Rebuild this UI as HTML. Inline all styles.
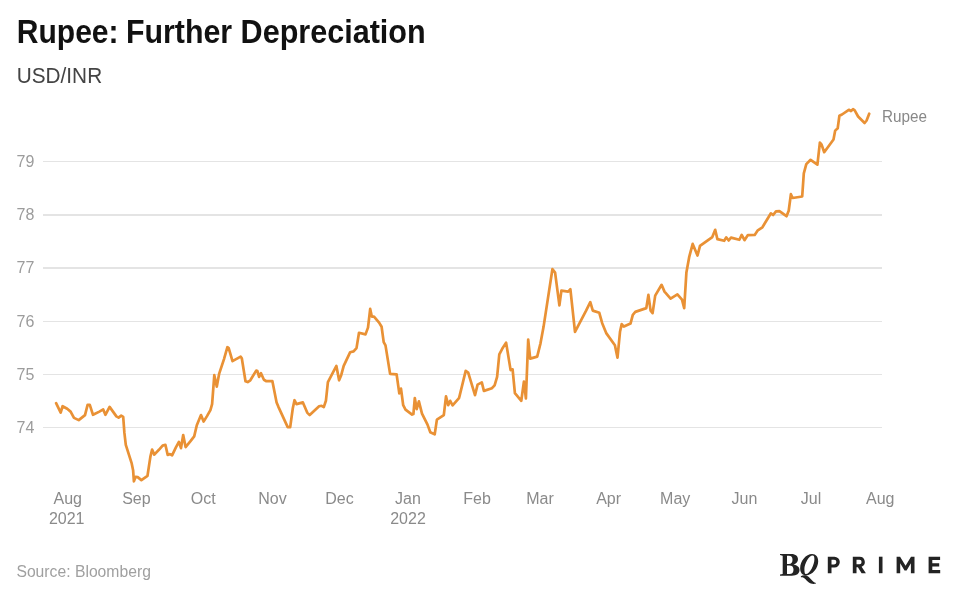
<!DOCTYPE html>
<html><head><meta charset="utf-8"><title>Rupee: Further Depreciation</title>
<style>
html,body{margin:0;padding:0;background:#fff;}
body{width:955px;height:589px;position:relative;overflow:hidden;font-family:"Liberation Sans",sans-serif;}
svg{position:absolute;left:0;top:0;will-change:transform;font-family:"Liberation Sans",sans-serif;}
</style></head><body>
<svg width="955" height="589" viewBox="0 0 955 589">
<g id="grid">
<line x1="43" x2="882" y1="161.5" y2="161.5" stroke="#e4e4e4" stroke-width="1"/>
<line x1="43" x2="882" y1="214.95" y2="214.95" stroke="#e4e4e4" stroke-width="1.9"/>
<line x1="43" x2="882" y1="268.0" y2="268.0" stroke="#e4e4e4" stroke-width="1.9"/>
<line x1="43" x2="882" y1="321.5" y2="321.5" stroke="#e4e4e4" stroke-width="1"/>
<line x1="43" x2="882" y1="374.5" y2="374.5" stroke="#e4e4e4" stroke-width="1"/>
<line x1="43" x2="882" y1="427.5" y2="427.5" stroke="#e4e4e4" stroke-width="1"/>
</g>
<g id="text">
<text transform="translate(16.80,42.70) scale(0.927,1)" font-size="32.4" fill="#111" text-anchor="start" font-weight="bold">Rupee:</text>
<text transform="translate(126.00,42.70) scale(0.936,1)" font-size="32.4" fill="#111" text-anchor="start" font-weight="bold">Further</text>
<text transform="translate(240.60,42.70) scale(0.943,1)" font-size="32.4" fill="#111" text-anchor="start" font-weight="bold">Depreciation</text>
<text transform="translate(16.70,82.70) scale(0.908,1)" font-size="22.9" fill="#444" text-anchor="start" font-weight="normal">USD/INR</text>
<text transform="translate(16.60,166.90) scale(1.0,1)" font-size="16" fill="#9c9c9c" text-anchor="start" font-weight="normal">79</text>
<text transform="translate(16.60,220.35) scale(1.0,1)" font-size="16" fill="#9c9c9c" text-anchor="start" font-weight="normal">78</text>
<text transform="translate(16.60,273.40) scale(1.0,1)" font-size="16" fill="#9c9c9c" text-anchor="start" font-weight="normal">77</text>
<text transform="translate(16.60,326.90) scale(1.0,1)" font-size="16" fill="#9c9c9c" text-anchor="start" font-weight="normal">76</text>
<text transform="translate(16.60,379.90) scale(1.0,1)" font-size="16" fill="#9c9c9c" text-anchor="start" font-weight="normal">75</text>
<text transform="translate(16.60,432.90) scale(1.0,1)" font-size="16" fill="#9c9c9c" text-anchor="start" font-weight="normal">74</text>
<text transform="translate(67.70,503.60) scale(1.0,1)" font-size="16" fill="#8a8a8a" text-anchor="middle" font-weight="normal">Aug</text>
<text transform="translate(66.70,523.70) scale(1.0,1)" font-size="16" fill="#8a8a8a" text-anchor="middle" font-weight="normal">2021</text>
<text transform="translate(136.40,503.60) scale(1.0,1)" font-size="16" fill="#8a8a8a" text-anchor="middle" font-weight="normal">Sep</text>
<text transform="translate(203.20,503.60) scale(1.0,1)" font-size="16" fill="#8a8a8a" text-anchor="middle" font-weight="normal">Oct</text>
<text transform="translate(272.50,503.60) scale(1.0,1)" font-size="16" fill="#8a8a8a" text-anchor="middle" font-weight="normal">Nov</text>
<text transform="translate(339.50,503.60) scale(1.0,1)" font-size="16" fill="#8a8a8a" text-anchor="middle" font-weight="normal">Dec</text>
<text transform="translate(408.00,503.60) scale(1.0,1)" font-size="16" fill="#8a8a8a" text-anchor="middle" font-weight="normal">Jan</text>
<text transform="translate(408.00,523.70) scale(1.0,1)" font-size="16" fill="#8a8a8a" text-anchor="middle" font-weight="normal">2022</text>
<text transform="translate(477.10,503.60) scale(1.0,1)" font-size="16" fill="#8a8a8a" text-anchor="middle" font-weight="normal">Feb</text>
<text transform="translate(540.00,503.60) scale(1.0,1)" font-size="16" fill="#8a8a8a" text-anchor="middle" font-weight="normal">Mar</text>
<text transform="translate(608.60,503.60) scale(1.0,1)" font-size="16" fill="#8a8a8a" text-anchor="middle" font-weight="normal">Apr</text>
<text transform="translate(675.20,503.60) scale(1.0,1)" font-size="16" fill="#8a8a8a" text-anchor="middle" font-weight="normal">May</text>
<text transform="translate(744.40,503.60) scale(1.0,1)" font-size="16" fill="#8a8a8a" text-anchor="middle" font-weight="normal">Jun</text>
<text transform="translate(811.00,503.60) scale(1.0,1)" font-size="16" fill="#8a8a8a" text-anchor="middle" font-weight="normal">Jul</text>
<text transform="translate(880.20,503.60) scale(1.0,1)" font-size="16" fill="#8a8a8a" text-anchor="middle" font-weight="normal">Aug</text>
<text transform="translate(882.00,121.90) scale(0.955,1)" font-size="16" fill="#888" text-anchor="start" font-weight="normal">Rupee</text>
<text transform="translate(16.40,576.90) scale(0.995,1)" font-size="15.8" fill="#a0a0a0" text-anchor="start" font-weight="normal">Source: Bloomberg</text>
</g>
<path id="series" d="M56.1,403.1 L60.7,412.6 L62.6,406.2 L67.2,408.8 L70.6,411.6 L74.0,417.9 L78.7,420.1 L85.0,415.1 L87.6,404.8 L89.8,404.8 L93.0,414.8 L99.4,411.6 L103.2,409.4 L105.4,414.8 L109.6,406.9 L113.0,411.6 L116.4,416.4 L118.6,417.6 L121.2,415.6 L123.2,416.8 L124.4,432.9 L125.8,444.8 L131.7,463.4 L133.1,470.2 L133.9,481.3 L135.6,476.8 L137.7,477.1 L141.4,480.1 L147.5,475.8 L150.4,456.6 L152.1,449.6 L154.3,454.6 L158.9,449.8 L162.6,445.6 L165.4,444.8 L167.7,454.9 L169.9,454.1 L172.1,455.3 L175.9,447.3 L178.9,441.9 L181.0,448.1 L183.2,435.1 L185.6,447.1 L190.3,441.4 L194.2,436.4 L196.8,425.3 L201.0,415.1 L203.6,421.6 L207.0,416.1 L210.4,410.1 L212.1,404.1 L214.3,375.2 L216.8,386.6 L219.2,373.6 L224.0,359.1 L227.4,347.2 L228.7,348.1 L232.5,361.1 L240.6,356.6 L241.8,358.2 L245.5,381.2 L247.7,382.1 L250.3,380.3 L256.2,370.6 L257.4,371.1 L259.1,376.9 L261.0,373.2 L263.9,379.8 L266.4,381.2 L272.4,381.2 L276.6,402.4 L278.3,406.6 L287.7,427.1 L290.2,427.1 L292.8,408.3 L294.5,400.2 L296.5,404.1 L302.9,402.4 L307.2,412.6 L309.7,415.1 L319.1,406.3 L321.6,405.8 L323.8,407.1 L325.9,400.8 L327.9,382.1 L336.4,365.9 L339.1,380.3 L341.2,375.2 L343.7,365.9 L350.2,352.2 L353.6,351.4 L356.5,348.1 L359.0,332.8 L365.5,334.4 L368.0,327.6 L370.2,308.9 L371.8,316.6 L374.0,316.6 L379.1,322.6 L381.6,326.8 L383.7,342.1 L385.5,345.4 L390.1,373.9 L396.6,374.3 L399.3,393.4 L401.0,388.6 L403.2,405.2 L405.5,409.6 L412.1,414.6 L413.4,414.1 L414.8,398.1 L416.7,409.1 L418.9,401.3 L422.0,413.6 L427.5,424.6 L430.3,432.2 L434.7,434.4 L436.9,419.6 L443.8,415.1 L446.0,396.4 L448.2,405.2 L450.2,400.8 L452.6,405.4 L459.0,398.1 L459.6,395.8 L465.7,370.9 L468.2,372.6 L475.0,395.2 L477.6,384.6 L481.8,382.4 L483.9,390.9 L492.0,388.2 L494.6,385.3 L497.1,376.9 L499.3,354.4 L502.2,348.8 L506.1,342.6 L510.6,370.1 L512.6,369.3 L514.9,393.1 L521.3,400.8 L523.9,381.6 L525.9,398.4 L528.2,339.6 L530.2,358.6 L537.2,356.6 L540.5,343.3 L543.6,326.6 L552.4,269.2 L555.1,272.6 L559.4,305.4 L561.4,290.6 L568.2,291.6 L570.4,289.3 L575.0,331.8 L586.1,310.6 L590.3,302.1 L592.8,310.6 L599.3,312.8 L602.2,323.2 L606.4,333.4 L614.9,345.3 L617.5,357.6 L620.0,331.8 L621.7,324.1 L623.9,326.6 L630.5,323.6 L632.8,314.8 L635.3,311.9 L646.3,308.1 L648.4,294.9 L650.6,310.6 L652.6,313.1 L655.2,295.6 L661.6,284.8 L664.5,291.6 L670.6,298.6 L677.4,294.4 L682.0,299.6 L684.2,308.1 L686.4,272.4 L689.3,256.6 L692.7,243.9 L697.5,255.5 L700.0,245.9 L712.3,237.1 L715.2,229.8 L717.4,239.1 L724.2,240.8 L726.2,237.4 L728.7,240.5 L731.0,237.6 L739.4,239.8 L741.7,234.9 L744.5,240.2 L747.9,235.1 L754.7,234.9 L757.8,230.3 L762.4,227.3 L770.9,213.3 L773.1,215.0 L776.0,211.3 L779.4,211.1 L786.5,216.2 L788.7,210.8 L790.9,194.2 L792.6,198.0 L802.2,196.5 L803.8,173.4 L806.3,164.1 L810.6,159.8 L817.4,164.6 L819.9,142.5 L821.6,144.6 L824.2,152.2 L833.5,139.5 L835.2,130.6 L837.7,128.2 L839.4,115.8 L842.0,114.5 L848.8,109.8 L851.0,111.0 L853.0,109.2 L854.7,110.4 L858.1,116.5 L864.6,123.0 L866.6,120.5 L869.2,113.7" fill="none" stroke="#e99135" stroke-width="2.7" stroke-linejoin="round" stroke-linecap="round"/>
<g id="logo" fill="#232323">
<path fill-rule="evenodd" d="M780,554 H791.3 C795.8,554 798,556.4 798,559.3 C798,562 796.3,563.8 793.4,564.6 C797.2,565.2 799.5,567.2 799.5,570 C799.5,573.5 796.8,575.7 791.8,575.7 H780 V574.6 L782.7,574 V555.7 L780,555.1 Z M787,555.7 V564 H788.8 C791.5,564 792.5,562.3 792.5,559.8 C792.5,557.1 791.5,555.7 788.8,555.7 Z M787,565.6 V574.1 H789.3 C792.3,574.1 793.5,572.4 793.5,569.8 C793.5,567.1 792.3,565.6 789.3,565.6 Z"/>
<path fill-rule="evenodd" d="M812.1,554 C816,554 818.2,557 818.2,561.3 C818.2,568 812.5,575.4 805.9,575.4 C802.3,575.4 800.15,572.5 800.15,568.3 C800.15,561 806,554 812.1,554 Z M812.7,555.4 C814,555.4 814.4,557 814.4,559.2 C814.4,564.5 810,574 805.8,574 C804.7,574 804.4,572 804.4,569 C804.4,563.5 809,555.4 812.7,555.4 Z"/>
<path d="M800.9,576.2 C802.3,575.2 804.6,574.9 806.4,575.6 C809.6,576.9 811.2,580.0 813.1,581.5 C814.1,582.3 815.1,582.8 816.0,582.9 L816.0,583.6 C813.3,584.6 810.6,583.8 808.6,582.3 C805.9,580.2 804.9,578.0 803.1,577.5 C802.3,577.3 801.6,577.2 800.9,577.3 Z"/>
<path d="M827.8,556.7 h6.6 a5.4,5.4 0 0 1 0,10.8 h-2.9 v5.7 h-3.7 z M831.5,559.8 v4.6 h2.6 a2.3,2.3 0 0 0 0,-4.6 z" fill-rule="evenodd"/>
<path d="M852.8,556.7 h6.9 a5.2,5.2 0 0 1 1.9,10.0 l4.3,6.5 h-4.3 l-3.7,-5.9 h-1.4 v5.9 h-3.7 z M856.5,559.8 v4.4 h2.9 a2.2,2.2 0 0 0 0,-4.4 z" fill-rule="evenodd"/>
<rect x="878.9" y="556.7" width="3.6" height="16.5"/>
<path d="M896.6,573.2 v-16.5 h3.5 l5.45,9.0 l5.45,-9.0 h3.5 v16.5 h-3.6 v-9.9 l-4.3,7.2 h-2.1 l-4.3,-7.2 v9.9 z"/>
<path d="M928.6,556.7 h11.5 v3.2 h-7.8 v3.4 h6.9 v3.1 h-6.9 v3.6 h7.9 v3.2 h-11.6 z"/>
</g>
</svg>
</body></html>
